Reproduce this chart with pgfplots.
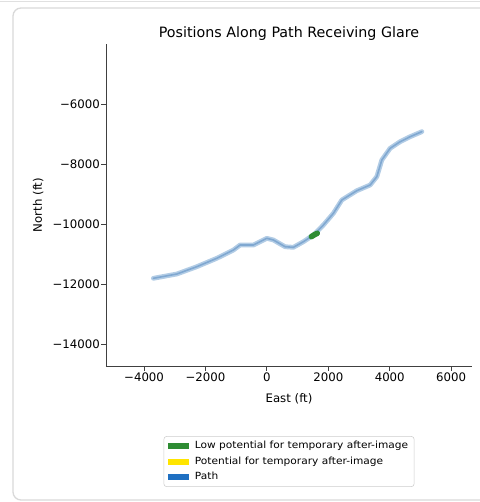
\documentclass[border=0pt]{standalone}
\usepackage{pgfplots}
\pgfplotsset{compat=1.18}
\usepackage{fontspec}
\setmainfont{DejaVu Sans}

\definecolor{pathcol}{rgb}{0.12,0.44,0.76}
\definecolor{pathhalo}{rgb}{0.70,0.80,0.90}
\definecolor{pathcore}{rgb}{0.50,0.66,0.82}
\definecolor{lowcol}{rgb}{0.18,0.55,0.20}
\definecolor{potcol}{rgb}{1.00,0.90,0.00}
\definecolor{spine}{gray}{0.25}

\begin{document}
\begin{tikzpicture}
\begin{axis}[%
width=274.5pt,
height=241.5pt,
at={(0,0)},
anchor=south west,
scale only axis,
xmin=-5240,
xmax=6680,
ymin=-14733,
ymax=-4000,
axis x line*=bottom,
axis y line*=left,
axis line style={spine,line width=0.6pt,-},
tick align=outside,
major tick length=3.5pt,
tick style={spine,line width=0.6pt},
scaled ticks=false,
xtick={-4000,-2000,0,2000,4000,6000},
xticklabels={−4000,−2000,0,2000,4000,6000},
ytick={-14000,-12000,-10000,-8000,-6000},
yticklabels={−14000,−12000,−10000,−8000,−6000},
ticklabel style={font=\fontsize{8.8}{10}\selectfont},
xticklabel style={anchor=base,yshift=-8pt},
yticklabel style={anchor=east,inner sep=0pt,xshift=-1pt},
clip=false,
legend cell align=left,
legend style={at={(0.5,-0.218)},anchor=north,draw=black!20,rounded corners=2pt,
  font=\fontsize{7.4}{9}\selectfont\addfontfeature{FakeStretch=1.075},
  inner xsep=3pt,inner ysep=2pt,row sep=1.8pt,
  nodes={inner sep=1.5pt,text height=5.5pt,text depth=1.5pt},
  /tikz/every odd column/.append style={column sep=3pt}},
legend image code/.code={\fill[#1,draw=none,sharp corners] (0pt,-2.25pt) rectangle (15.75pt,2.25pt);},
]
\addlegendimage{fill=lowcol}
\addlegendentry{Low potential for temporary after-image}
\addlegendimage{fill=potcol}
\addlegendentry{Potential for temporary after-image}
\addlegendimage{fill=pathcol}
\addlegendentry{Path}

\addplot[pathhalo,line width=3.6pt,line join=round,line cap=round,forget plot] coordinates {
(-3697,-11810) (-2935,-11667) (-2283,-11423) (-1632,-11143) (-1091,-10867)
(-873,-10700) (-440,-10700) (-3,-10477) (212,-10533) (593,-10757)
(863,-10777) (1189,-10590) (1515,-10367) (1840,-10033) (2166,-9643)
(2440,-9200) (2928,-8890) (3362,-8700) (3580,-8423) (3743,-7867)
(4013,-7477) (4339,-7257) (4665,-7090) (5046,-6923)
};
\addplot[pathcore,line width=1.2pt,line join=round,line cap=round,forget plot] coordinates {
(-3697,-11810) (-2935,-11667) (-2283,-11423) (-1632,-11143) (-1091,-10867)
(-873,-10700) (-440,-10700) (-3,-10477) (212,-10533) (593,-10757)
(863,-10777) (1189,-10590) (1515,-10367) (1840,-10033) (2166,-9643)
(2440,-9200) (2928,-8890) (3362,-8700) (3580,-8423) (3743,-7867)
(4013,-7477) (4339,-7257) (4665,-7090) (5046,-6923)
};
\addplot[lowcol,line width=4.2pt,line cap=round,forget plot] coordinates {
(1450,-10420) (1560,-10350) (1640,-10310)
};

\node[font=\fontsize{10.7}{12}\selectfont,anchor=base] at (rel axis cs:0.5,1) [yshift=4.7pt] {Positions Along Path Receiving Glare};
\node[font=\fontsize{8.8}{10}\selectfont,anchor=base] at (rel axis cs:0.5,0) [yshift=-27pt] {East (ft)};
\node[font=\fontsize{8.8}{10}\selectfont,anchor=base,rotate=90] at (rel axis cs:-0.1749,0.5) {North (ft)};
\end{axis}
\draw[black!15,line width=1pt,rounded corners=6pt] (330pt,268.5pt) -- (-69.75pt,268.5pt) -- (-69.75pt,-100.5pt) -- (330pt,-100.5pt);
\draw[black!12,line width=0.8pt] (-90pt,273.5pt) -- (300pt,273.5pt);
\pgfresetboundingbox
\path[use as bounding box] (-79.5pt,-102pt) rectangle (279.75pt,274.5pt);
\end{tikzpicture}
\end{document}
